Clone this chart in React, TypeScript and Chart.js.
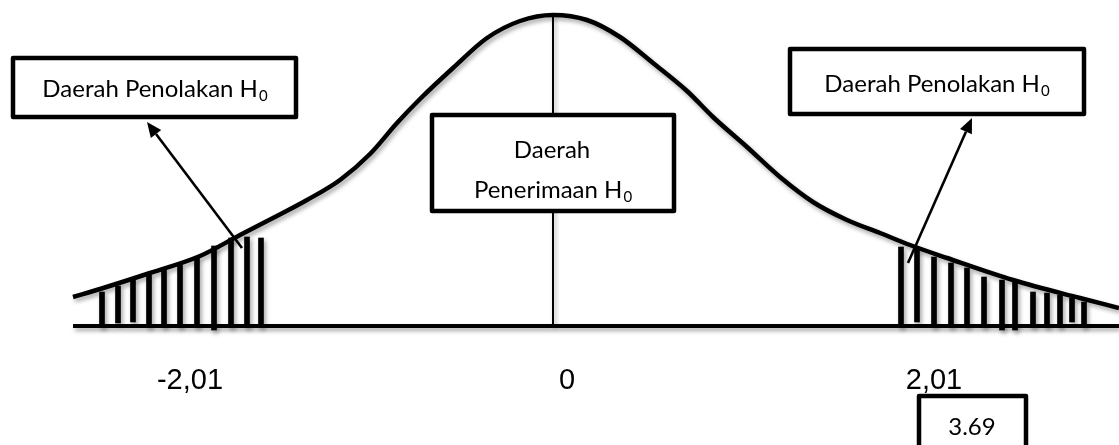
import React, { useEffect, useRef } from "react";
import { Chart, registerables } from "chart.js";

Chart.register(...registerables);

// Horizontal position: offset from the centre line; vertical: height above the baseline.
const CURVE_X = [-480, -453, -403, -353, -313, -280, -246, -213, -183, -156, -133, -100, -66, -33, 0, 34, 67, 100, 134, 160, 194, 227, 260, 294, 327, 357, 394, 460, 527, 566];
const CURVE_H = [29, 37, 53, 70, 91, 108, 126, 146, 172, 203, 227, 258, 288, 305, 311, 306, 289, 263, 235, 209, 179, 149, 124, 106, 93, 81, 68, 46, 28, 18];

// Hatching of the left rejection region
const LEFT_BAR_X = [-451, -435, -420, -404, -389, -373, -356, -339, -322, -306, -292];
const LEFT_BAR_TOP = [34, 40, 46, 51, 56, 61, 68, 80, 88, 89, 88];
const LEFT_BAR_BOTTOM = [-1, 3, 4, -1, -1, -1, -1, -4, -1, -1, -1];

// Hatching of the right rejection region
const RIGHT_BAR_X = [348, 364, 381, 398, 414, 431, 449, 462, 480, 494, 507, 519, 531];
const RIGHT_BAR_TOP = [79, 78, 69, 63, 58, 49, 46, 44, 34, 33, 31, 28, 24];
const RIGHT_BAR_BOTTOM = [-1, 4, -1, -1, -1, -1, -4, -4, -1, -1, -1, 4, -1];

// Baseline and centre line
const BASE_X = [-480, 566];
const BASE_H = [0, 0];
const CENTER_X = [0, 0];
const CENTER_H = [0, 311];

// Tick labels under the axis
const TICK_LABELS = ["-2,01", "0", "2,01"];
const TICK_X = [-363, 14, 381];

// Annotation boxes (layout)
const BOXES = [
  { x1: -540, x2: -257, h1: 268, h2: 209, lines: [{ t: "Daerah Penolakan H", s: "0", cx: -398, h: 229 }] },
  { x1: 237, x2: 531, h1: 277, h2: 212, lines: [{ t: "Daerah Penolakan H", s: "0", cx: 384, h: 234 }] },
  { x1: -121, x2: 121, h1: 211, h2: 115, lines: [{ t: "Daerah", s: "", cx: -1, h: 168 }, { t: "Penerimaan H", s: "0", cx: 0, h: 128 }] },
  { x1: 366, x2: 473, h1: -70, h2: -134, lines: [{ t: "3.69", s: "", cx: 419, h: -109 }] },
];

const ARROWS = [
  { fx: -311, fh: 78, tx: -406, th: 204 },
  { fx: 355, fh: 63, tx: 419, th: 208 },
];

const BOX_FONT = "Lato";

export default function App() {
  const ref = useRef<HTMLCanvasElement | null>(null);

  useEffect(() => {
    document.body.style.margin = "0";
    const canvas = ref.current;
    if (!canvas) return;

    const overlay = {
      id: "overlay",
      beforeDatasetsDraw(chart: any) {
        const ctx = chart.ctx;
        ctx.save();
        ctx.shadowColor = "rgba(0,0,0,0.35)";
        ctx.shadowBlur = 4;
        ctx.shadowOffsetX = 2;
        ctx.shadowOffsetY = 3;
      },
      afterDatasetsDraw(chart: any) {
        const ctx = chart.ctx;
        ctx.restore();
        const xs = chart.scales.x;
        const ys = chart.scales.y;
        const px = (v: number) => xs.getPixelForValue(v);
        const py = (v: number) => ys.getPixelForValue(v);

        // arrows
        ctx.save();
        ctx.strokeStyle = "#000";
        ctx.fillStyle = "#000";
        ctx.lineWidth = 2.6;
        for (const a of ARROWS) {
          const x0 = px(a.fx), y0 = py(a.fh), x1 = px(a.tx), y1 = py(a.th);
          const ang = Math.atan2(y1 - y0, x1 - x0);
          const hl = 15, hw = 6.5;
          const bx = x1 - hl * Math.cos(ang), by = y1 - hl * Math.sin(ang);
          ctx.beginPath();
          ctx.moveTo(x0, y0);
          ctx.lineTo(bx, by);
          ctx.stroke();
          ctx.beginPath();
          ctx.moveTo(x1, y1);
          ctx.lineTo(bx + hw * Math.sin(ang), by - hw * Math.cos(ang));
          ctx.lineTo(bx - hw * Math.sin(ang), by + hw * Math.cos(ang));
          ctx.closePath();
          ctx.fill();
        }
        ctx.restore();

        // boxes
        for (const b of BOXES) {
          const l = px(b.x1), r = px(b.x2), t = py(b.h1), bt = py(b.h2);
          ctx.save();
          ctx.fillStyle = "#fff";
          ctx.fillRect(l, t, r - l, bt - t);
          ctx.strokeStyle = "#000";
          ctx.lineWidth = 4.5;
          ctx.lineJoin = "round";
          ctx.strokeRect(l, t, r - l, bt - t);
          ctx.fillStyle = "#000";
          ctx.textBaseline = "alphabetic";
          ctx.textAlign = "left";
          for (const ln of b.lines) {
            const main = `24px ${BOX_FONT}`;
            const sub = `15px ${BOX_FONT}`;
            ctx.font = main;
            const w1 = ctx.measureText(ln.t).width;
            ctx.font = sub;
            const w2 = ln.s ? ctx.measureText(ln.s).width + 1 : 0;
            const start = px(ln.cx) - (w1 + w2) / 2;
            const base = py(ln.h);
            ctx.font = main;
            ctx.fillText(ln.t, start, base);
            if (ln.s) {
              ctx.font = sub;
              ctx.fillText(ln.s, start + w1 + 1, base + 4);
            }
          }
          ctx.restore();
        }

        // tick labels
        ctx.save();
        ctx.fillStyle = "#000";
        ctx.font = "29px 'Liberation Sans', Arial, sans-serif";
        ctx.textAlign = "center";
        ctx.textBaseline = "alphabetic";
        TICK_LABELS.forEach((lab, i) => {
          ctx.fillText(lab, px(TICK_X[i]), py(-63));
        });
        ctx.restore();
      },
    };

    const bars = [
      ...LEFT_BAR_X.map((x, i) => ({ x, y: [LEFT_BAR_BOTTOM[i], LEFT_BAR_TOP[i]] })),
      ...RIGHT_BAR_X.map((x, i) => ({ x, y: [RIGHT_BAR_BOTTOM[i], RIGHT_BAR_TOP[i]] })),
    ];

    const chart = new Chart(canvas, {
      type: "bar",
      data: {
        datasets: [
          {
            type: "line",
            data: CURVE_X.map((x, i) => ({ x, y: CURVE_H[i] })),
            borderColor: "#000",
            borderWidth: 4.5,
            pointRadius: 0,
            cubicInterpolationMode: "monotone",
            fill: false,
          } as any,
          {
            type: "line",
            data: BASE_X.map((x, i) => ({ x, y: BASE_H[i] })),
            borderColor: "#000",
            borderWidth: 4,
            pointRadius: 0,
            fill: false,
          } as any,
          {
            type: "line",
            data: CENTER_X.map((x, i) => ({ x, y: CENTER_H[i] })),
            borderColor: "#000",
            borderWidth: 2,
            pointRadius: 0,
            fill: false,
          } as any,
          {
            type: "bar",
            data: bars as any,
            backgroundColor: "#000",
            borderWidth: 0,
            barThickness: 5,
            grouped: false,
          } as any,
        ],
      },
      options: {
        responsive: false,
        animation: false,
        devicePixelRatio: 1,
        layout: { padding: 0 },
        plugins: { legend: { display: false }, tooltip: { enabled: false }, title: { display: false } },
        scales: {
          x: { type: "linear", min: -553, max: 566, display: false, offset: false },
          y: { type: "linear", min: -119, max: 326, display: false },
        },
      } as any,
      plugins: [overlay],
    });

    return () => chart.destroy();
  }, []);

  return (
    <div style={{ width: 1119, height: 445, background: "#fff" }}>
      <canvas ref={ref} width={1119} height={445} style={{ display: "block" }} />
    </div>
  );
}
